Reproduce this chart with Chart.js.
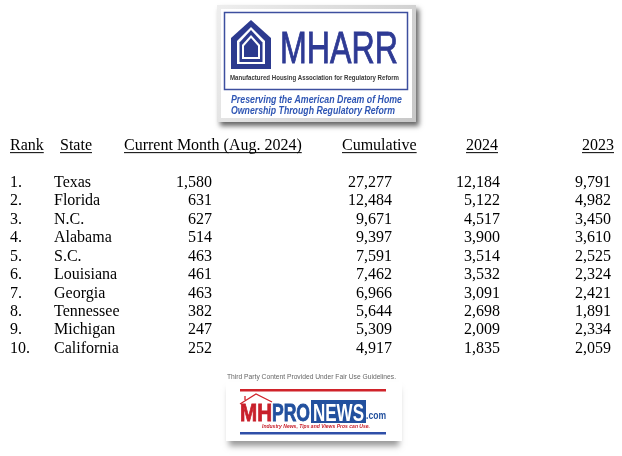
<!DOCTYPE html>
<html>
<head>
<meta charset="utf-8">
<script src="https://cdn.jsdelivr.net/npm/chart.js@4.4.1/dist/chart.umd.min.js"></script>
<style>
  html, body { margin: 0; padding: 0; background: #fff; }
  #box { width: 622px; height: 456px; position: relative; }
</style>
</head>
<body>
<div id="box"><canvas id="chart"></canvas></div>
<script>
// table data
const headers = ['Rank', 'State', 'Current Month (Aug. 2024)', 'Cumulative', '2024', '2023'];
const ranks = ['1.', '2.', '3.', '4.', '5.', '6.', '7.', '8.', '9.', '10.'];
const states = ['Texas', 'Florida', 'N.C.', 'Alabama', 'S.C.', 'Louisiana', 'Georgia', 'Tennessee', 'Michigan', 'California'];
const currentMonth = [1580, 631, 627, 514, 463, 461, 463, 382, 247, 252];
const cumulative = [27277, 12484, 9671, 9397, 7591, 7462, 6966, 5644, 5309, 4917];
const shipments2024 = [12184, 5122, 4517, 3900, 3514, 3532, 3091, 2698, 2009, 1835];
const shipments2023 = [9791, 4982, 3450, 3610, 2525, 2324, 2421, 1891, 2334, 2059];

// layout: x anchor of each column, and how its text sits on that anchor
const cellX = [10, 54, 212, 392, 500, 611];
const cellAlign = ['left', 'left', 'right', 'right', 'right', 'right'];
const headX = [10, 60, 124, 342, 466, 582];

const fmt = v => typeof v === 'number' ? v.toLocaleString('en-US') : v;
const columns = [ranks, states, currentMonth, cumulative, shipments2024, shipments2023];

const datasets = columns.map((col, c) => ({
  label: headers[c],
  texts: col.map(fmt),
  align: cellAlign[c],
  data: col.map((v, i) => ({ x: cellX[c], y: i + 1 })),
  pointRadius: 0
}));
datasets.push({
  label: 'header',
  texts: headers,
  align: 'left',
  underline: true,
  data: headers.map((h, c) => ({ x: headX[c], y: -1 })),
  pointRadius: 0
});

// scale text horizontally so it fills a given width
function fitText(ctx, text, x, y, w, font, color, stroke) {
  ctx.save();
  ctx.font = font;
  ctx.fillStyle = color;
  ctx.textBaseline = 'alphabetic';
  const s = w / ctx.measureText(text).width;
  ctx.translate(x, y);
  ctx.scale(s, 1);
  ctx.fillText(text, 0, 0);
  if (stroke) {
    ctx.strokeStyle = color;
    ctx.lineWidth = stroke;
    ctx.strokeText(text, 0, 0);
  }
  ctx.restore();
}

function housePath(ctx, cx, top, half, eave, bottom) {
  ctx.beginPath();
  ctx.moveTo(cx, top);
  ctx.lineTo(cx + half, eave);
  ctx.lineTo(cx + half, bottom);
  ctx.lineTo(cx - half, bottom);
  ctx.lineTo(cx - half, eave);
  ctx.closePath();
}

function drawMharr(ctx) {
  ctx.save();
  ctx.shadowColor = 'rgba(0,0,0,0.6)';
  ctx.shadowBlur = 5;
  ctx.shadowOffsetX = 3;
  ctx.shadowOffsetY = 4;
  ctx.fillStyle = '#d4d4d4';
  ctx.fillRect(217, 5, 199, 117);
  ctx.restore();
  const g = ctx.createLinearGradient(217, 5, 416, 122);
  g.addColorStop(0, '#eeeeee');
  g.addColorStop(1, '#c8c8c8');
  ctx.fillStyle = g;
  ctx.fillRect(217, 5, 199, 117);
  ctx.fillStyle = '#fff';
  ctx.fillRect(221, 9, 191, 109);
  ctx.strokeStyle = '#3d4f9f';
  ctx.lineWidth = 1.5;
  ctx.strokeRect(224.5, 12.5, 183, 77);

  // house icon: nested house outlines
  const blue = '#2c3a8f';
  const cx = 251;
  const shapes = [
    [20, 20, 38, 69],
    [27, 14, 41, 64],
    [30, 11.5, 42.5, 62],
    [35, 9, 45, 59],
    [38, 7, 46, 57]
  ];
  shapes.forEach((s, i) => {
    housePath(ctx, cx, s[0], s[1], s[2], s[3]);
    ctx.fillStyle = i % 2 ? '#fff' : blue;
    ctx.fill();
  });

  fitText(ctx, 'MHARR', 280, 63, 118, '45px "Liberation Sans"', '#2e3a94', 0.9);
  fitText(ctx, 'Manufactured Housing Association for Regulatory Reform', 230, 80, 169, 'bold 7px "Liberation Sans"', '#3a3a3a');
  fitText(ctx, 'Preserving the American Dream of Home', 231, 103, 171, 'italic bold 10px "Liberation Sans"', '#2f56b4');
  fitText(ctx, 'Ownership Through Regulatory Reform', 231, 114, 164, 'italic bold 10px "Liberation Sans"', '#2f56b4');
}

function drawMhpro(ctx) {
  fitText(ctx, 'Third Party Content Provided Under Fair Use Guidelines.', 227, 379, 169, '8px "Liberation Sans"', '#666');
  // box with soft shadow underneath
  ctx.save();
  ctx.shadowColor = 'rgba(0,0,0,0.4)';
  ctx.shadowBlur = 6;
  ctx.shadowOffsetY = 5;
  ctx.fillStyle = '#fff';
  ctx.fillRect(229, 384, 170, 57);
  ctx.restore();
  ctx.fillStyle = '#fff';
  ctx.fillRect(226, 382, 176, 59);

  ctx.fillStyle = '#d0232a';
  ctx.fillRect(240, 389, 146, 2.5);
  ctx.fillStyle = '#2f4fa8';
  ctx.fillRect(240, 432, 146, 2.5);

  // roof over MH
  ctx.strokeStyle = '#d0232a';
  ctx.lineWidth = 1.3;
  ctx.beginPath();
  ctx.moveTo(240, 404);
  ctx.lineTo(256, 394);
  ctx.lineTo(272, 402);
  ctx.moveTo(245, 400);
  ctx.lineTo(245, 396);
  ctx.stroke();

  fitText(ctx, 'MH', 240, 421, 32, 'bold 24px "Liberation Sans"', '#c8202b', 0.8);
  fitText(ctx, 'PRO', 272, 421, 38, 'bold 24px "Liberation Sans"', '#22509e', 0.8);
  ctx.fillStyle = '#22509e';
  ctx.fillRect(311, 400, 55, 23);
  fitText(ctx, 'NEWS', 313, 421, 51, 'bold 23px "Liberation Sans"', '#fff');
  fitText(ctx, '.com', 366, 419, 20, 'bold 10px "Liberation Sans"', '#22509e');
  fitText(ctx, 'Industry News, Tips and Views Pros can Use.', 262, 428, 108, 'italic bold 6px "Liberation Sans"', '#c8202b');
}

const tablePlugin = {
  id: 'tablePlugin',
  beforeDraw(chart) {
    const ctx = chart.ctx;
    ctx.save();
    ctx.fillStyle = '#fff';
    ctx.fillRect(0, 0, chart.width, chart.height);
    ctx.restore();
    drawMharr(ctx);
    drawMhpro(ctx);
  },
  afterDatasetsDraw(chart) {
    const ctx = chart.ctx;
    ctx.save();
    ctx.font = '16px "Liberation Serif", "Times New Roman", serif';
    ctx.fillStyle = '#000';
    ctx.textBaseline = 'alphabetic';
    chart.data.datasets.forEach((ds, d) => {
      const meta = chart.getDatasetMeta(d);
      ctx.textAlign = ds.align;
      meta.data.forEach((el, i) => {
        const t = ds.texts[i];
        const y = el.y + 5;
        ctx.fillText(t, el.x, y);
        if (ds.underline) {
          const w = ctx.measureText(t).width;
          ctx.fillRect(el.x, y + 2, w, 1);
        }
      });
    });
    ctx.restore();
  }
};

new Chart(document.getElementById('chart'), {
  type: 'scatter',
  data: { datasets },
  options: {
    responsive: true,
    maintainAspectRatio: false,
    animation: false,
    layout: { padding: { top: 126.7, bottom: 71.2, left: 0, right: 0 } },
    scales: {
      x: { type: 'linear', min: 0, max: 622, display: false },
      y: { type: 'linear', min: -2, max: 12, reverse: true, display: false }
    },
    plugins: {
      legend: { display: false },
      tooltip: { enabled: false }
    }
  },
  plugins: [tablePlugin]
});
</script>
</body>
</html>
